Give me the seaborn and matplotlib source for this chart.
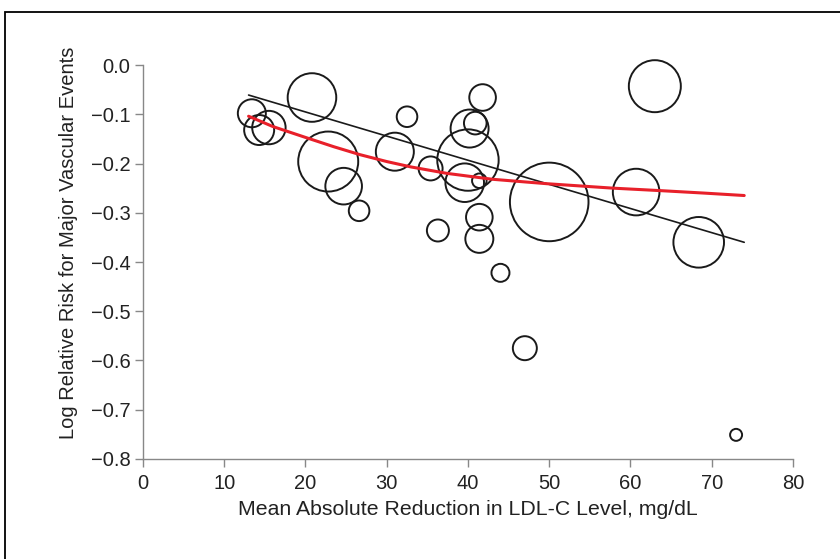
import matplotlib
matplotlib.use("Agg")
import matplotlib.pyplot as plt
import pandas as pd
import seaborn as sns
from matplotlib.patches import Rectangle

# Trial bubbles: LDL-C reduction, log relative risk, relative weight
ldl_reduction = [13.4, 14.3, 15.5, 20.8, 22.8, 24.7, 26.6, 32.5, 31.0, 35.4,
                 36.3, 41.8, 40.2, 40.9, 40.0, 39.6, 41.4, 41.4, 41.4, 44.0,
                 50.0, 47.0, 63.0, 60.7, 68.4, 73.0]
log_rr = [-0.098, -0.132, -0.127, -0.066, -0.196, -0.246, -0.296, -0.105, -0.176, -0.210,
          -0.336, -0.066, -0.129, -0.118, -0.193, -0.239, -0.235, -0.309, -0.353, -0.422,
          -0.278, -0.575, -0.043, -0.258, -0.360, -0.751]
weight = [196, 225, 279, 590, 900, 335, 106, 106, 361, 144,
          121, 177, 361, 128, 942, 372, 53, 177, 196, 81,
          1544, 144, 676, 543, 640, 36]

# Linear meta-regression line
lin_x = [13.0, 74.0]
lin_y = [-0.061, -0.360]

# Nonlinear fit (red curve)
curve_x = [13.0, 16.0, 20.0, 23.5, 26.7, 30.0, 33.0, 37.4, 43.0, 49.7, 57.8, 63.6, 69.0, 74.0]
curve_y = [-0.104, -0.125, -0.147, -0.166, -0.182, -0.196, -0.207, -0.220, -0.232, -0.241,
           -0.250, -0.255, -0.260, -0.265]

y_ticks = [0.0, -0.1, -0.2, -0.3, -0.4, -0.5, -0.6, -0.7, -0.8]
x_ticks = [0, 10, 20, 30, 40, 50, 60, 70, 80]

df = pd.DataFrame({"ldl": ldl_reduction, "lrr": log_rr, "w": weight})

sns.set_theme(style="white")
plt.rcParams["font.family"] = ["Liberation Sans", "DejaVu Sans"]
plt.rcParams["axes.unicode_minus"] = True

fig = plt.figure(figsize=(8.4, 5.59), dpi=100)
ax = fig.add_axes([0.1702, 0.1789, 0.7738, 0.7048])

# bubble area proportional to weight (s in pt^2)
px = 0.72
sns.scatterplot(
    data=df, x="ldl", y="lrr", size="w",
    sizes=(0, (2 * px) ** 2 * max(weight)), size_norm=(0, max(weight)),
    facecolors="none", edgecolor="#1a1a1a", linewidth=1.4,
    legend=False, ax=ax, clip_on=False,
)

sns.lineplot(x=lin_x, y=lin_y, color="#1a1a1a", linewidth=1.2, sort=False,
             estimator=None, ax=ax)
sns.lineplot(x=curve_x, y=curve_y, color="#e8202a", linewidth=2.2, sort=False,
             estimator=None, ax=ax)

ax.set_xlim(0, 80)
ax.set_ylim(-0.8, 0.0)
ax.set_xticks(x_ticks)
ax.set_yticks(y_ticks)
ax.set_yticklabels([f"{v:.1f}".replace("-", "\u2212") if v != 0 else "0.0" for v in y_ticks])

for side in ["top", "right"]:
    ax.spines[side].set_visible(False)
for side in ["left", "bottom"]:
    ax.spines[side].set_color("#888888")
    ax.spines[side].set_linewidth(1.0)

ax.xaxis.set_ticks_position("bottom")
ax.yaxis.set_ticks_position("left")
ax.tick_params(axis="both", direction="out", length=6, width=1.0, color="#888888",
               labelsize=14.5, labelcolor="#222222")
ax.tick_params(axis="x", pad=5)
ax.tick_params(axis="y", pad=3)

ax.set_xlabel("Mean Absolute Reduction in LDL-C Level, mg/dL", fontsize=15.3, color="#222222")
ax.set_ylabel("Log Relative Risk for Major Vascular Events", fontsize=14.5, color="#222222")
ax.yaxis.set_label_coords(-0.100, 0.548)
ax.xaxis.set_label_coords(0.5, -0.105)

# frame around the whole figure
fig.patches.append(Rectangle((0.006, -0.1), 1.2, 1.0794, transform=fig.transFigure,
                             fill=False, edgecolor="black", linewidth=1.3))

fig.savefig("out.png", dpi=100)
